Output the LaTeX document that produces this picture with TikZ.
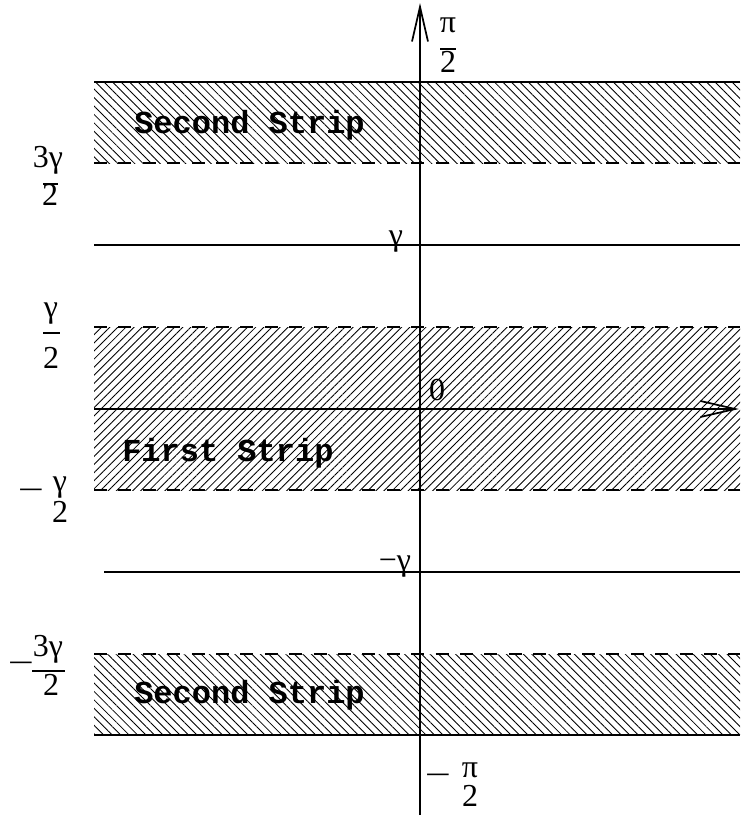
\documentclass[tikz,border=0pt]{standalone}
\usepackage{graphicx}
\usepackage{fontspec}
\setmainfont{Liberation Serif}
\newfontfamily\stripfont{Liberation Mono}
\usetikzlibrary{patterns.meta,arrows.meta}
\newcommand{\wideminus}{\scalebox{1.45}[1]{−}}
\begin{document}
\begin{tikzpicture}[x=0.75pt,y=-0.75pt,
  lab/.style={inner sep=0pt,anchor=base,font=\fontsize{24}{28}\selectfont},
  striplab/.style={inner sep=0pt,anchor=base west,font=\stripfont\bfseries\fontsize{24}{28}\selectfont},
  solidline/.style={line width=1.5pt},
  dashline/.style={line width=1.5pt,dash pattern=on 9.75pt off 8.55pt},
  hatchA/.style={pattern={Lines[angle=-45,distance=4.5pt,line width=0.65pt]}},
  hatchB/.style={pattern={Lines[angle=45,distance=4.3pt,line width=0.65pt]}},
  axisline/.style={line width=1.5pt,-{Straight Barb[length=26pt,width=12pt,line width=1.3pt]}},
  fracbar/.style={line width=1pt}]
\useasboundingbox (0,0) rectangle (740,818);
% strip fills
\fill[hatchA] (94,82) rectangle (740,163);
\fill[hatchB] (94,327) rectangle (740,490);
\fill[hatchA] (94,654) rectangle (740,735);
% line end points
\coordinate (aL) at (94,82);   \coordinate (aR) at (740,82);
\coordinate (bL) at (94,163);  \coordinate (bR) at (740,163);
\coordinate (cL) at (94,245);  \coordinate (cR) at (740,245);
\coordinate (dL) at (94,327);  \coordinate (dR) at (740,327);
\coordinate (eL) at (94,490);  \coordinate (eR) at (740,490);
\coordinate (fL) at (104,572); \coordinate (fR) at (740,572);
\coordinate (gL) at (94,654);  \coordinate (gR) at (740,654);
\coordinate (hL) at (94,735);  \coordinate (hR) at (740,735);
\coordinate (xL) at (94,409);  \coordinate (xR) at (739,409);
\coordinate (yB) at (420,815); \coordinate (yT) at (420,3);
% lines
\draw[solidline] (aL) -- (aR);
\draw[dashline] (bL) -- (bR);
\draw[solidline] (cL) -- (cR);
\draw[dashline] (dL) -- (dR);
\draw[dashline] (eL) -- (eR);
\draw[solidline] (fL) -- (fR);
\draw[dashline] (gL) -- (gR);
\draw[solidline] (hL) -- (hR);
% axes
\draw[axisline] (xL) -- (xR);
\draw[axisline] (yB) -- (yT);
% strip labels
\node[striplab] (s1) at (134,133) {Second Strip};
\node[striplab] (s2) at (122,461) {First Strip};
\node[striplab] (s3) at (134,703) {Second Strip};
% pi/2 top
\node[lab,text depth=0pt] (piT) at (448,32) {π};
\node[lab] (piTd) at (448,72) {2};
\draw[fracbar] (440,49) -- (456,49);
% 3gamma/2
\node[lab] (g3n) at (48,167) {3γ};
\node[lab] (g3d) at (50,205) {2};
\draw[fracbar] (43,184) -- (58,184);
% gamma
\node[lab] (gam) at (396,245) {γ};
% gamma/2
\node[lab] (g2n) at (51,317) {γ};
\node[lab] (g2d) at (51,368) {2};
\draw[fracbar] (43,333) -- (60,333);
% zero
\node[lab] (zero) at (437,400) {0};
% -gamma/2
\node[lab] (m1) at (31,500) {\wideminus};
\node[lab] (mg2n) at (60,491) {γ};
\node[lab] (mg2d) at (60,522) {2};
% -gamma
\node[lab] (mgam) at (395,570) {−γ};
% -3gamma/2
\node[lab] (m3) at (21,673) {\wideminus};
\node[lab] (mg3n) at (48,656) {3γ};
\node[lab] (mg3d) at (51,695) {2};
\draw[fracbar] (32,671) -- (65,671);
% -pi/2
\node[lab] (m4) at (438,785) {\wideminus};
\node[lab,text depth=0pt] (piBn) at (470,777) {π};
\node[lab,text height=14pt] (piBd) at (470,806) {2};
\end{tikzpicture}
\end{document}
